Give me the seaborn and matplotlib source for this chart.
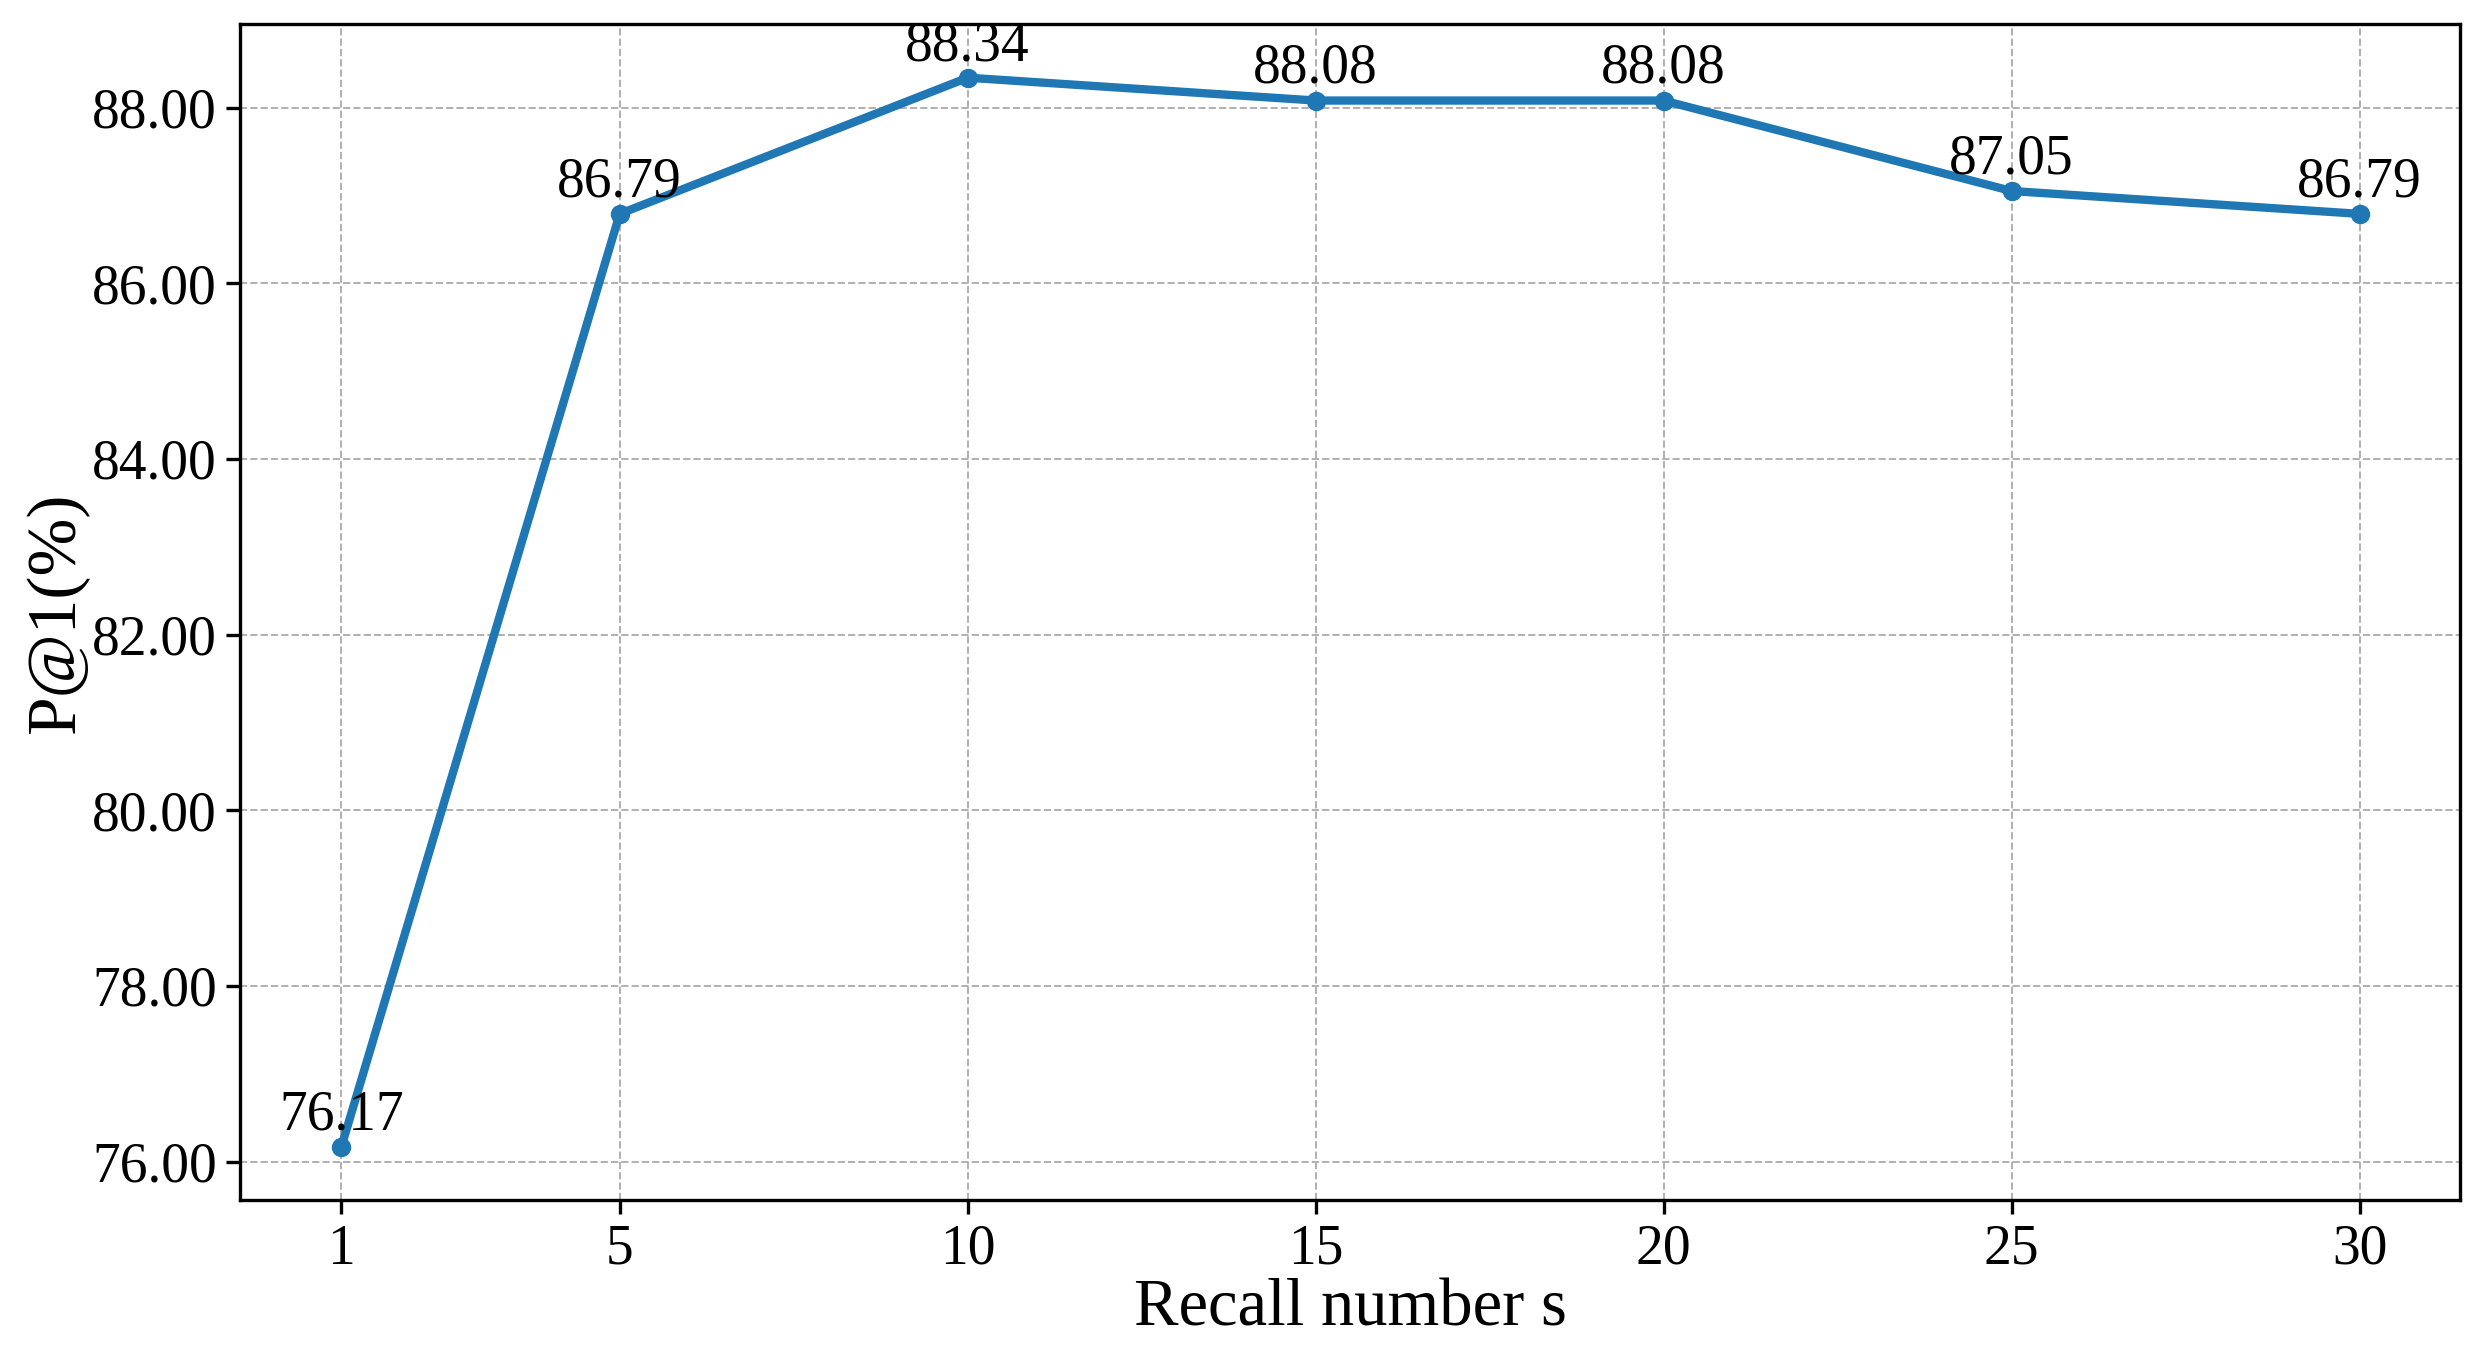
import matplotlib
matplotlib.use("Agg")
import matplotlib.pyplot as plt
import seaborn as sns
import pandas as pd

# --- DATA ---
recall_s = [1, 5, 10, 15, 20, 25, 30]
p_at_1 = [76.17, 86.79, 88.34, 88.08, 88.08, 87.05, 86.79]
y_ticks = [76, 78, 80, 82, 84, 86, 88]

sns.set_theme(style="ticks")
plt.rcParams['font.family'] = ['Liberation Serif', 'DejaVu Serif']
plt.rcParams['text.color'] = 'black'
plt.rcParams['axes.labelcolor'] = 'black'
plt.rcParams['xtick.color'] = 'black'
plt.rcParams['ytick.color'] = 'black'

df = pd.DataFrame({'s': recall_s, 'p1': p_at_1})

fig, ax = plt.subplots(figsize=(12.395, 6.735), dpi=200)
sns.lineplot(data=df, x='s', y='p1', marker='o', color='#1f77b4',
             linewidth=3, markersize=7, markeredgewidth=0, ax=ax)

# value labels
for s, v in zip(recall_s, p_at_1):
    ax.annotate(f"{v:.2f}", (s, v), textcoords='offset points', xytext=(0, 2),
                ha='center', va='bottom', fontsize=20, color='black')

ax.set_xticks(recall_s)
ax.set_yticks(y_ticks)
ax.set_yticklabels([f"{t:.2f}" for t in y_ticks])
ax.tick_params(axis='both', labelsize=20, direction='out', length=5, width=1.2,
               color='black', labelcolor='black')
ax.grid(True, linestyle='--', linewidth=0.7, color='#b0b0b0')
ax.set_axisbelow(True)
for sp in ax.spines.values():
    sp.set_visible(True)
    sp.set_color('black')
    sp.set_linewidth(1.2)

ax.set_xlabel('Recall number s', fontsize=24, color='black', labelpad=1)
ax.set_ylabel('P@1(%)', fontsize=25, color='black', labelpad=1)

fig.subplots_adjust(left=0.097, right=0.9925, top=0.982, bottom=0.109)
fig.savefig('out.png', dpi=200)
